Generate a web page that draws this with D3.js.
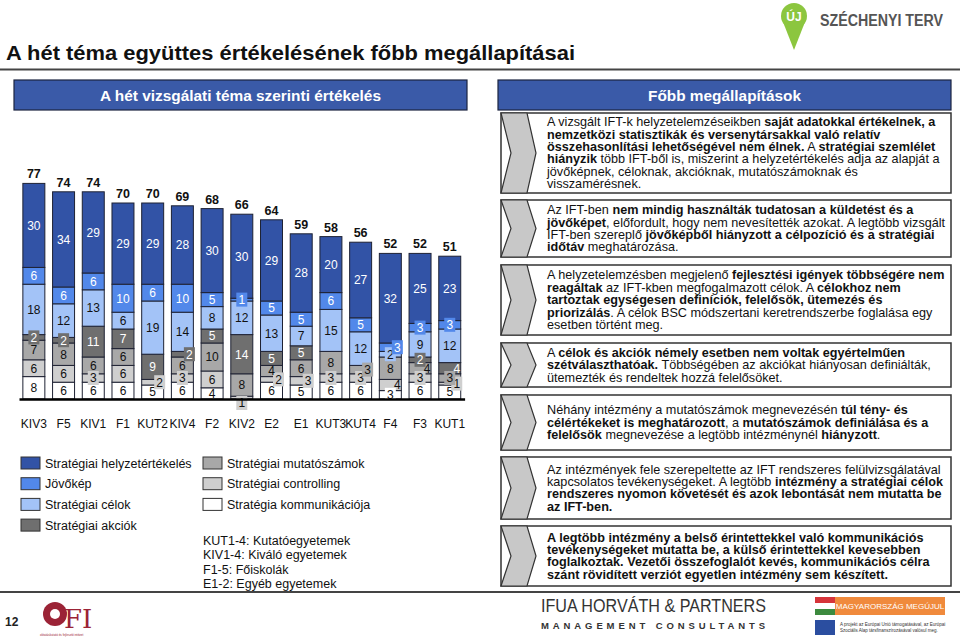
<!DOCTYPE html>
<html>
<head>
<meta charset="utf-8">
<script src="https://cdn.jsdelivr.net/npm/d3@7.9.0/dist/d3.min.js"></script>
<style>
  html, body { margin: 0; padding: 0; background: #fff; }
  svg { display: block; font-family: Arial, 'Liberation Sans', sans-serif; }
</style>
</head>
<body>
<div id="chart"></div>
<script>
// institutions, left to right
const categories = ['KIV3', 'F5', 'KIV1', 'F1', 'KUT2', 'KIV4', 'F2', 'KIV2', 'E2', 'E1', 'KUT3', 'KUT4', 'F4', 'F3', 'KUT1'];

// stacked from bottom to top
const seriesNames = [
  'Stratégia kommunikációja',
  'Stratégiai controlling',
  'Stratégiai mutatószámok',
  'Stratégiai akciók',
  'Stratégiai célok',
  'Jövőkép',
  'Stratégiai helyzetértékelés'
];
const kommunikacio = [8, 6, 6, 6, 5, 6, 4, 0, 6, 5, 6, 6, 3, 6, 5];
const controlling = [6, 6, 3, 6, 2, 3, 6, 1, 2, 3, 3, 3, 4, 3, 1];
const mutatoszamok = [7, 8, 6, 6, 0, 6, 10, 8, 4, 6, 8, 3, 8, 4, 3];
const akciok = [2, 2, 11, 7, 9, 2, 5, 14, 5, 5, 0, 0, 0, 2, 4];
const celok = [18, 12, 13, 6, 19, 14, 8, 12, 13, 7, 15, 12, 2, 9, 12];
const jovokep = [6, 6, 6, 10, 6, 10, 5, 1, 5, 5, 6, 5, 3, 3, 3];
const helyzet = [30, 34, 29, 29, 29, 28, 30, 30, 29, 28, 20, 27, 32, 25, 23];

const definitions = [
  'KUT1-4: Kutatóegyetemek',
  'KIV1-4: Kiváló egyetemek',
  'F1-5: Főiskolák',
  'E1-2: Egyéb egyetemek'
];

const findings = [
  ['A vizsgált IFT-k helyzetelemzéseikben **saját adatokkal értékelnek, a**',
   '**nemzetközi statisztikák és versenytársakkal való relatív**',
   '**összehasonlítási lehetőségével nem élnek.** A **stratégiai szemlélet**',
   '**hiányzik** több IFT-ből is, miszerint a helyzetértékelés adja az alapját a',
   'jövőképnek, céloknak, akcióknak, mutatószámoknak és',
   'visszamérésnek.'],
  ['Az IFT-ben **nem mindig használták tudatosan a küldetést és a**',
   '**jövőképet**, előfordult, hogy nem nevesítették azokat. A legtöbb vizsgált',
   'IFT-ben szereplő **jövőképből hiányzott a célpozíció és a stratégiai**',
   '**időtáv** meghatározása.'],
  ['A helyzetelemzésben megjelenő **fejlesztési igények többségére nem**',
   '**reagáltak** az IFT-kben megfogalmazott célok. A **célokhoz nem**',
   '**tartoztak egységesen definíciók, felelősök, ütemezés és**',
   '**priorizálás**. A célok BSC módszertani keretrendszerbe foglalása egy',
   'esetben történt meg.'],
  ['A **célok és akciók némely esetben nem voltak egyértelműen**',
   '**szétválaszthatóak.** Többségében az akciókat hiányosan definiálták,',
   'ütemezték és rendeltek hozzá felelősöket.'],
  ['Néhány intézmény a mutatószámok megnevezésén **túl tény- és**',
   '**célértékeket is meghatározott**, a **mutatószámok definiálása és a**',
   '**felelősök** megnevezése a legtöbb intézménynél **hiányzott**.'],
  ['Az intézmények fele szerepeltette az IFT rendszeres felülvizsgálatával',
   'kapcsolatos tevékenységeket. A legtöbb **intézmény a stratégiai célok**',
   '**rendszeres nyomon követését és azok lebontását nem mutatta be**',
   '**az IFT-ben.**'],
  ['**A legtöbb intézmény a belső érintettekkel való kommunikációs**',
   '**tevékenységeket mutatta be, a külső érintettekkel kevesebben**',
   '**foglalkoztak. Vezetői összefoglalót kevés, kommunikációs célra**',
   '**szánt rövidített verziót egyetlen intézmény sem készített.**']
];

const colors = ['#ffffff', '#cfcfcf', '#a8a8a8', '#6f6f6f', '#a3c3f7', '#5288ea', '#3253a6'];
const whiteText = [false, false, false, true, false, true, true];

const width = 960, height = 639;
const svg = d3.select('#chart').append('svg')
  .attr('width', width).attr('height', height);

// page title + rules
svg.append('text').attr('x', 6).attr('y', 60)
  .attr('font-size', 20.5).attr('font-weight', 'bold').attr('fill', '#111')
  .attr('textLength', 569).attr('lengthAdjust', 'spacingAndGlyphs')
  .text('A hét téma együttes értékelésének főbb megállapításai');
svg.append('line').attr('x1', 0).attr('x2', 960).attr('y1', 69.5).attr('y2', 69.5)
  .attr('stroke', '#444').attr('stroke-width', 2);
svg.append('line').attr('x1', 0).attr('x2', 960).attr('y1', 592).attr('y2', 592)
  .attr('stroke', '#444').attr('stroke-width', 2);

// section headers
function header(x0, x1, label, w) {
  svg.append('rect').attr('x', x0).attr('y', 80).attr('width', x1 - x0).attr('height', 30)
    .attr('fill', '#3a5aa8').attr('stroke', '#1c2440').attr('stroke-width', 1.2);
  svg.append('text').attr('x', (x0 + x1) / 2 - w / 2).attr('y', 100.5)
    .attr('fill', '#fff').attr('textLength', w).attr('lengthAdjust', 'spacingAndGlyphs')
    .attr('font-size', 15).attr('font-weight', 'bold').text(label);
}
header(14, 467, 'A hét vizsgálati téma szerinti értékelés', 281);
header(498, 951, 'Főbb megállapítások', 153);

// ---- stacked bar chart ----
const table = categories.map((c, i) => ({
  cat: c,
  s0: kommunikacio[i], s1: controlling[i], s2: mutatoszamok[i], s3: akciok[i],
  s4: celok[i], s5: jovokep[i], s6: helyzet[i]
}));
const keys = ['s0', 's1', 's2', 's3', 's4', 's5', 's6'];
const stacked = d3.stack().keys(keys)(table);

const x = d3.scaleBand().domain(categories).range([19, 464.6])
  .paddingInner(0.26).paddingOuter(0.13);
const y = d3.scaleLinear().domain([0, 80]).range([399, 175]);

const g = svg.append('g');
stacked.forEach((layer, k) => {
  g.append('g').selectAll('rect')
    .data(layer.filter(d => d[1] > d[0]))
    .join('rect')
    .attr('x', d => x(d.data.cat))
    .attr('width', x.bandwidth())
    .attr('y', d => y(d[1]))
    .attr('height', d => y(d[0]) - y(d[1]))
    .attr('fill', colors[k])
    .attr('stroke', '#1e2233')
    .attr('stroke-width', 1);
});

// segment labels: a label that would collide with one below is moved right, then left
const labels = g.append('g').attr('font-size', 12);
table.forEach((row, i) => {
  const placed = [];
  const mid = x(row.cat) + x.bandwidth() / 2;
  stacked.forEach((layer, k) => {
    const d = layer[i];
    const v = d[1] - d[0];
    if (v <= 0) return;
    let cy = y((d[0] + d[1]) / 2);
    if (d[0] === 0 && v <= 1) cy = y(0) + 4;
    const hw = v >= 10 ? 7 : 3.5;
    let dx = 7;
    for (const cand of [0, 7, -7]) {
      const hit = placed.some(p => Math.abs(p.cy - cy) < 12 &&
        Math.abs(p.dx - cand) < p.hw + hw);
      if (!hit) { dx = cand; break; }
    }
    placed.push({ cy, dx, hw });
    const cx = mid + dx;
    if (v <= 3) {
      labels.append('rect').attr('x', cx - 5.5).attr('y', cy - 7)
        .attr('width', 11).attr('height', 14).attr('fill', colors[k]);
    }
    labels.append('text').attr('x', cx).attr('y', cy + 4.3)
      .attr('text-anchor', 'middle')
      .attr('fill', whiteText[k] ? '#fff' : '#111')
      .text(v);
  });
});

// totals
g.append('g').selectAll('text')
  .data(stacked[stacked.length - 1])
  .join('text')
  .attr('x', d => x(d.data.cat) + x.bandwidth() / 2)
  .attr('y', d => y(d[1]) - 5)
  .attr('text-anchor', 'middle')
  .attr('font-size', 12.5).attr('font-weight', 'bold').attr('fill', '#111')
  .text(d => d[1]);

// baseline + category axis
const xAxis = svg.append('g').attr('transform', `translate(0, ${y(0)})`)
  .call(d3.axisBottom(x).tickSize(0).tickPadding(20));
xAxis.select('.domain').attr('stroke', '#000').attr('stroke-width', 2.5);
xAxis.selectAll('text').attr('font-size', 12).attr('fill', '#111')
  .attr('font-family', 'Arial, Liberation Sans, sans-serif');

// legend
const leg = svg.append('g').attr('font-size', 12.5).attr('fill', '#111');
const legendOrder = [6, 5, 4, 3, 2, 1, 0];
legendOrder.forEach((k, j) => {
  const col = j < 4 ? 0 : 1;
  const row = j < 4 ? j : j - 4;
  const lx = col === 0 ? 21 : 203;
  const ly = 457 + row * 20.7;
  leg.append('rect').attr('x', lx).attr('y', ly).attr('width', 19).attr('height', 12)
    .attr('fill', colors[k]).attr('stroke', '#333').attr('stroke-width', 1);
  leg.append('text').attr('x', lx + 24).attr('y', ly + 10.5).text(seriesNames[k]);
});
leg.selectAll('.def').data(definitions).join('text')
  .attr('x', 203).attr('y', (d, i) => 545 + i * 14.3).text(d => d);

// ---- findings boxes ----
const boxes = [[113, 193], [200, 257], [265, 335], [343, 387], [395, 450], [457, 519], [526, 586]];
const fb = svg.append('g');
findings.forEach((lines, i) => {
  const [t, b] = boxes[i];
  const m = (t + b) / 2;
  fb.append('rect').attr('x', 501).attr('y', t).attr('width', 450).attr('height', b - t)
    .attr('fill', '#fff').attr('stroke', '#333').attr('stroke-width', 1.5);
  fb.append('polygon')
    .attr('points', [[501, t], [527, t], [536, m], [527, b], [501, b], [511, m]].join(' '))
    .attr('fill', '#c8c8c8').attr('stroke', '#333').attr('stroke-width', 1.2);
  const lh = 12.4;
  const first = m - (lines.length - 1) * lh / 2;
  const tg = fb.append('g').attr('transform', 'translate(547,0) scale(1.055,1)');
  lines.forEach((ln, j) => {
    const tx = tg.append('text').attr('x', 0).attr('y', first + j * lh + 4.3)
      .attr('font-size', 12).attr('fill', '#111');
    ln.split('**').forEach((part, p) => {
      if (part) tx.append('tspan').attr('font-weight', p % 2 ? 'bold' : 'normal').text(part);
    });
  });
});

// ---- logos ----
// Széchenyi terv
const sz = svg.append('g');
sz.append('path').attr('d', 'M783,22 L794,50 L805,22 Z').attr('fill', '#8cc63f');
sz.append('circle').attr('cx', 794).attr('cy', 16).attr('r', 13).attr('fill', '#8cc63f');
sz.append('text').attr('x', 794).attr('y', 21).attr('text-anchor', 'middle')
  .attr('fill', '#fff').attr('font-size', 12).attr('font-weight', 'bold').text('ÚJ');
sz.append('text').attr('x', 820).attr('y', 26).attr('fill', '#555')
  .attr('font-size', 16).attr('font-weight', 'bold').attr('textLength', 123)
  .attr('lengthAdjust', 'spacingAndGlyphs')
  .text('SZÉCHENYI TERV');

// footer
svg.append('text').attr('x', 5).attr('y', 626).attr('font-size', 12)
  .attr('font-weight', 'bold').attr('fill', '#222').text('12');
const dfi = svg.append('g');
dfi.append('circle').attr('cx', 55).attr('cy', 614).attr('r', 12).attr('fill', '#9b2336');
dfi.append('circle').attr('cx', 55).attr('cy', 614).attr('r', 5).attr('fill', '#fff');
dfi.append('text').attr('x', 64).attr('y', 628).attr('font-size', 26)
  .attr('font-family', 'DejaVu Serif, serif').attr('fill', '#9b2336').text('FI');
dfi.append('text').attr('x', 40).attr('y', 636).attr('font-size', 3).attr('fill', '#9b2336')
  .text('oktatáskutató és fejlesztő intézet');

svg.append('text').attr('x', 541).attr('y', 612).attr('font-size', 19)
  .attr('fill', '#333').attr('textLength', 225).attr('lengthAdjust', 'spacingAndGlyphs')
  .text('IFUA HORVÁTH & PARTNERS');
svg.append('text').attr('x', 541).attr('y', 629).attr('font-size', 9.5)
  .attr('fill', '#333').attr('textLength', 224).attr('font-weight', 'bold')
  .text('MANAGEMENT CONSULTANTS');

const hu = svg.append('g');
hu.append('rect').attr('x', 815).attr('y', 597).attr('width', 20).attr('height', 6).attr('fill', '#d6343a');
hu.append('rect').attr('x', 815).attr('y', 603).attr('width', 20).attr('height', 6).attr('fill', '#fff');
hu.append('rect').attr('x', 815).attr('y', 609).attr('width', 20).attr('height', 6).attr('fill', '#3c8a3e');
hu.append('rect').attr('x', 835).attr('y', 597).attr('width', 110).attr('height', 18).attr('fill', '#f08a3c');
hu.append('text').attr('x', 890).attr('y', 609).attr('text-anchor', 'middle')
  .attr('font-size', 8).attr('fill', '#fff').text('MAGYARORSZÁG MEGÚJUL');
hu.append('rect').attr('x', 815).attr('y', 620).attr('width', 20).attr('height', 15).attr('fill', '#2b4ea0');
hu.append('text').attr('x', 840).attr('y', 626).attr('font-size', 4.5).attr('fill', '#333')
  .text('A projekt az Európai Unió támogatásával, az Európai');
hu.append('text').attr('x', 840).attr('y', 632).attr('font-size', 4.5).attr('fill', '#333')
  .text('Szociális Alap társfinanszírozásával valósul meg.');
</script>
</body>
</html>
